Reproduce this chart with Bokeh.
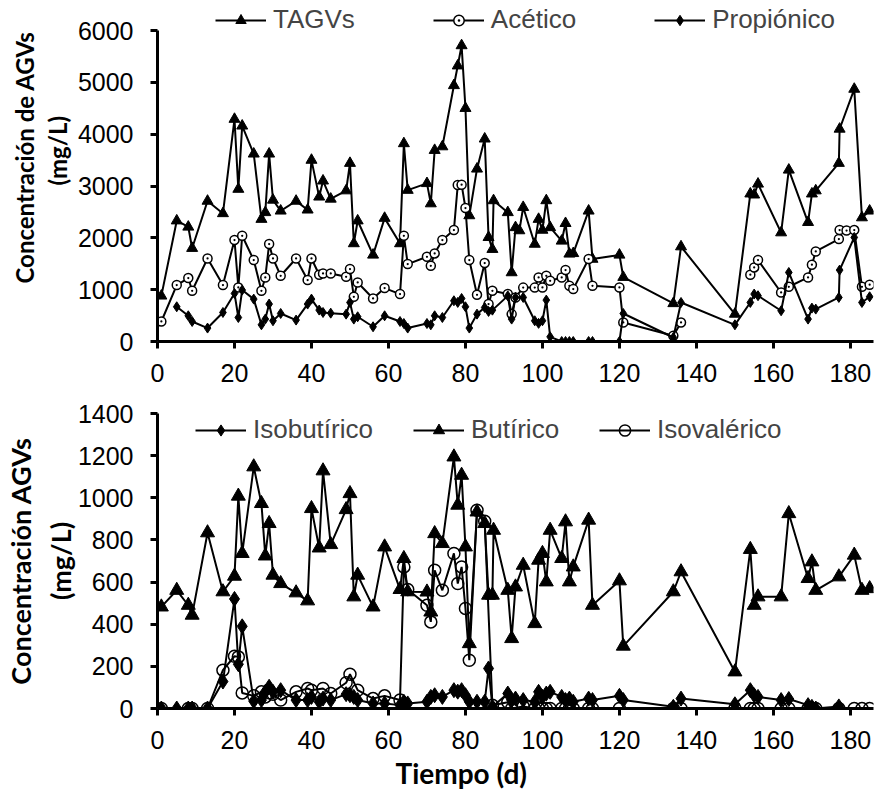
from bokeh.plotting import figure
from bokeh.models import Range1d, FixedTicker, Legend, LegendItem, Title
from bokeh.layouts import column
from bokeh.embed import file_html
from bokeh.resources import INLINE

N = None
G = float("nan")  # gap in the line (no data, line broken)

# Time (d)
t = [1, 5, 8, 9, 13, 17, 20, 21, 22, 25,
     27, 28, 29, 30, 32, 36, 39, 40, 42, 43,
     45, 49, 50, 51, 52, 56, 59, 63, 64, 65,
     70, 71, 72, 74, 77, 78, 79, 80, 81, 83,
     85, 86, 87, 87.3, 91, 92, 93, 94, 95, 98,
     99, 100, 101, 102, 105, 106, 107, 108, 112, 113,
     120, 121, 134, 136, 150, 154, 155, 156, 162, 164,
     169, 170, 171, 177, 177.2, 179, 181, 183, 185]

tagvs = [880, 2330, 2210, 1800, 2710, 2470, 4290, 2940, 4160, 3620,
         2360, 2490, 3620, 2730, 2520, 2710, 2540, 3500, 2790, 3100,
         2750, 2910, 3440, 1890, 2330, 1670, 2380, 1890, 3820, 2920,
         3050, 2660, 3690, 3760, 4940, 5320, 5710, 4500, 2430, 3330,
         3910, 2010, 1780, 2720, 2490, 1330, 2200, 2140, 2590, 1880,
         2360, 2150, 2720, 2200, 1940, 2280, 1690, 1700, 2520, 1590,
         1670, 1240, 734, 1830, 530, 2850, 2830, 3040, 2100, 3310,
         2300, 2850, 2910, 3440, 4100, N, 4870, 2390, 2520]

acetico = [386, 1089, 1224, 979, 1602, 1089, 1958, 1043, 2040, 1571,
           979, 1236, 1880, 1602, 1268, 1602, 1185, 1602, 1288, 1313,
           1313, 1249, 1398, 863, 1139, 830, 1031, 915, 2040, 1494,
           1635, 1461, 1699, 1958, 2150, 3020, 3025, 2575, 1571, 901,
           1513, 722, 979, N, 915, 529, 850, N, 1040, 1040,
           1236, 1043, 1268, 1172, 1236, 1378, 1075, 1011, 1591, 1075,
           1043, 367, 110, 367, G, 1288, 1429, 1571, 946, 1056,
           1236, 1481, 1737, 1977, 2150, 2140, 2150, 1056, 1095]

propionico = [N, 670, 496, 386, 259, 560, 927, 463, 992, 818,
              322, 432, 722, 400, 541, 413, 722, 818, 606, 560,
              547, 528, 753, 432, 477, 284, 496, 386, 347, 259,
              347, 322, 496, 463, 786, 754, 830, 670, 259, 528,
              656, 580, 605, N, 880, 432, 850, N, 850, 400,
              350, 400, 799, 90, 0, 0, 0, 0, 0, 0,
              0, 540, 77, 753, 322, 753, 915, 883, 593, 1332,
              432, 644, 625, 850, 1378, N, 2008, 753, 863]

butirico = [482, 561, 490, 443, 834, 554, 628, 1008, 736, 1147,
            973, 724, 878, 633, 593, 549, 511, 949, 762, 1128,
            778, 944, 1020, 530, 633, 482, 767, 565, 712, 554,
            553, 458, 830, 783, 1194, 965, 1107, 767, 308, 933,
            878, 538, 538, 846, 561, 332, 577, N, 680, 403,
            704, 736, 601, 846, 712, 886, 601, 672, 894, 490,
            606, 296, 554, 649, 174, 755, 490, 530, 530, 925,
            617, 696, 561, 625, N, N, 728, 561, 569]

isobutirico = [0, 0, 0, 0, 0, 128, 520, 210, 390, 35,
               40, 79, 103, 79, 87, 40, 40, 55, 32, 47,
               40, 68, 63, 55, 40, 24, 24, 16, 32, 24,
               32, 55, 63, 55, 87, 80, 87, 63, 32, 32,
               32, 190, 8, N, 71, 40, 47, N, 40, 32,
               79, 55, 71, 79, 55, 40, 47, 32, 47, 40,
               60, 40, 8, 47, 20, 87, 63, 55, 40, 45,
               16, 8, 0, 10, N, N, N, N, N]

isovalerico = [0, N, 0, 0, 0, 182, 248, 245, 74, 60,
               79, 55, 75, 68, 40, 79, 95, 87, N, 95,
               71, 122, 163, N, 87, 47, 60, 40, 672, 565,
               490, 411, 656, 561, 736, 593, 672, 475, 229, 941,
               889, N, 15, N, 30, 0, N, N, 10, 0,
               0, 0, 0, 0, 0, 0, 0, 0, 0, 0,
               0, N, 0, 0, 0, 0, 0, 0, 0, 0,
               0, 0, 0, 0, N, N, 0, 0, 0]

x_ticks = [0, 20, 40, 60, 80, 100, 120, 140, 160, 180]
y_ticks_top = [0, 1000, 2000, 3000, 4000, 5000, 6000]
y_ticks_bot = [0, 200, 400, 600, 800, 1000, 1200, 1400]


def xy(vals):
    xs, ys = [], []
    for d, v in zip(t, vals):
        if v is None:
            continue
        xs.append(d)
        ys.append(v)
    return xs, ys


TICK_FONT = "Liberation Sans"
TITLE_FONT = "Lato"


def make_fig(height, yend, ymax, yticks, bl, br, bt, bb):
    p = figure(width=885, height=height, x_range=Range1d(0, 186),
               y_range=Range1d(0, yend), output_backend="svg",
               toolbar_location=None, min_border_left=bl, min_border_right=br,
               min_border_top=bt, min_border_bottom=bb)
    p.grid.visible = False
    p.outline_line_color = None
    p.background_fill_color = "white"
    p.xaxis.ticker = FixedTicker(ticks=x_ticks)
    p.yaxis.ticker = FixedTicker(ticks=yticks)
    p.yaxis.bounds = (0, ymax)
    for ax in (p.xaxis[0], p.yaxis[0]):
        ax.axis_line_width = 3
        ax.axis_line_color = "black"
        ax.major_tick_line_width = 3
        ax.major_tick_line_color = "black"
        ax.major_tick_out = 7
        ax.major_tick_in = 0
        ax.minor_tick_line_color = None
        ax.major_label_text_font = TICK_FONT
        ax.major_label_text_font_size = "25px"
        ax.major_label_text_color = "black"
    p.yaxis.major_label_standoff = 17
    p.xaxis.major_label_standoff = 15
    return p


def side_title(text, size, offset, standoff):
    return Title(text=text, align="left", vertical_align="middle", offset=offset,
                 standoff=standoff, text_font=TITLE_FONT, text_font_style="bold",
                 text_font_size=size, text_color="black")


# ---------- top panel ----------
# frame extends above 6000 so the legend fits; the axis itself stops at 6000
p1 = make_fig(395, 6000 * 336 / 311, 6000, y_ticks_top, 154, 12, 5, 54)
p1.add_layout(side_title("(mg/L)", "24px", 156, 4), "left")
p1.add_layout(side_title("Concentración de AGVs", "24px", 58, 0), "left")

x, y = xy(tagvs)
l1 = p1.line(x, y, line_color="black", line_width=2)
s1 = p1.scatter(x, y, marker="triangle", size=11, fill_color="black", line_color="black")

x, y = xy(acetico)
l2 = p1.line(x, y, line_color="black", line_width=2)
s2 = p1.scatter(x, y, marker="circle_dot", size=9, fill_color="white", line_color="black", line_width=1.5)

x, y = xy(propionico)
l3 = p1.line(x, y, line_color="black", line_width=2)
s3 = p1.scatter(x, y, marker="diamond", size=10, fill_color="black", line_color="black")

leg1 = Legend(items=[LegendItem(label="TAGVs", renderers=[l1, s1]),
                     LegendItem(label="Acético", renderers=[l2, s2]),
                     LegendItem(label="Propiónico", renderers=[l3, s3])],
              orientation="horizontal", location=(58, 306),
              label_text_font=TICK_FONT, label_text_font_size="26px",
              glyph_width=51, glyph_height=26, label_height=26, label_standoff=7,
              spacing=78, padding=0, margin=0, border_line_color=None,
              background_fill_alpha=0)
p1.add_layout(leg1)

# ---------- bottom panel ----------
p2 = make_fig(399, 1400, 1400, y_ticks_bot, 157, 7, 18, 86)
p2.yaxis.axis_label = "Concentración AGVs\n(mg/L)"
p2.yaxis.axis_label_text_font = TITLE_FONT
p2.yaxis.axis_label_text_font_style = "bold"
p2.yaxis.axis_label_text_font_size = "27px"
p2.yaxis.axis_label_text_line_height = 1.2
p2.yaxis.axis_label_text_color = "black"
p2.yaxis.axis_label_standoff = -2

x, y = xy(butirico)
l5 = p2.line(x, y, line_color="black", line_width=2)
s5 = p2.scatter(x, y, marker="triangle", size=14, fill_color="black", line_color="black")

x, y = xy(isobutirico)
l4 = p2.line(x, y, line_color="black", line_width=2)
s4 = p2.scatter(x, y, marker="diamond", size=15, fill_color="black", line_color="black")

x, y = xy(isovalerico)
l6 = p2.line(x, y, line_color="black", line_width=2)
s6 = p2.scatter(x, y, marker="circle", size=12, fill_color="white", fill_alpha=0,
                line_color="black", line_width=1.5)

leg2 = Legend(items=[LegendItem(label="Isobutírico", renderers=[l4, s4]),
                     LegendItem(label="Butírico", renderers=[l5, s5]),
                     LegendItem(label="Isovalérico", renderers=[l6, s6])],
              orientation="horizontal", location=(38, 263),
              label_text_font=TICK_FONT, label_text_font_size="26px",
              glyph_width=51, glyph_height=28, label_height=26, label_standoff=7,
              spacing=40, padding=0, margin=0, border_line_color=None,
              background_fill_alpha=0)
p2.add_layout(leg2)

xtitle = Title(text="Tiempo (d)", align="left", offset=238, standoff=4,
               text_font=TITLE_FONT, text_font_style="bold", text_font_size="28px",
               text_color="black")
p2.add_layout(xtitle, "below")

layout = column(p1, p2, spacing=0)
open("out.html", "w").write(file_html(layout, INLINE))
